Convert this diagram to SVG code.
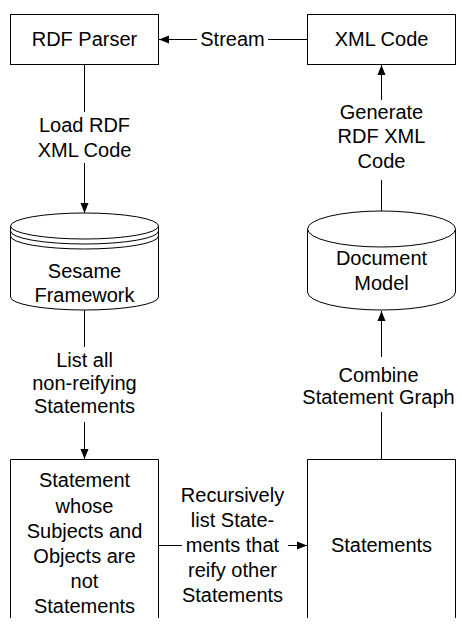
<svg xmlns="http://www.w3.org/2000/svg" width="462" height="628" viewBox="0 0 462 628">
<style>
.s{fill:#fff;stroke:#000;stroke-width:1}
.l{fill:none;stroke:#000;stroke-width:1}
text{font-family:"Liberation Sans",Arial,sans-serif;font-size:20px;fill:#000;text-anchor:middle}
</style>
<defs>
<marker id="a" markerUnits="userSpaceOnUse" markerWidth="11" markerHeight="9" refX="10" refY="4.5" orient="auto">
<path d="M0,0.5 L10,4.5 L0,8.5 Z" fill="#000"/>
</marker>
</defs>
<rect width="462" height="628" fill="#fff"/>
<g id="connectors">
<line class="l" x1="307" y1="39.5" x2="268" y2="39.5"/>
<line class="l" x1="197" y1="39.5" x2="159" y2="39.5" marker-end="url(#a)"/>
<text x="232.5" y="46">Stream</text>
<line class="l" x1="84.5" y1="64" x2="84.5" y2="112"/>
<line class="l" x1="84.5" y1="163" x2="84.5" y2="213" marker-end="url(#a)"/>
<text x="84.5" y="132">Load RDF</text>
<text x="84.5" y="157">XML Code</text>
<line class="l" x1="381.5" y1="100" x2="381.5" y2="65" marker-end="url(#a)"/>
<line class="l" x1="381.5" y1="180" x2="381.5" y2="211"/>
<text x="381.5" y="119">Generate</text>
<text x="381.5" y="143">RDF XML</text>
<text x="381.5" y="168">Code</text>
<line class="l" x1="84.5" y1="310" x2="84.5" y2="347"/>
<line class="l" x1="84.5" y1="422" x2="84.5" y2="459" marker-end="url(#a)"/>
<text x="84.5" y="367">List all</text>
<text x="84.5" y="390">non-reifying</text>
<text x="84.5" y="413">Statements</text>
<line class="l" x1="381.5" y1="357" x2="381.5" y2="311" marker-end="url(#a)"/>
<line class="l" x1="381.5" y1="412" x2="381.5" y2="459"/>
<text x="378.5" y="382">Combine</text>
<text x="378.5" y="404">Statement Graph</text>
<line class="l" x1="158" y1="545.5" x2="182" y2="545.5"/>
<line class="l" x1="288" y1="545.5" x2="307" y2="545.5" marker-end="url(#a)"/>
<text x="232.5" y="502">Recursively</text>
<text x="232.5" y="527">list State-</text>
<text x="232.5" y="552">ments that</text>
<text x="232.5" y="577">reify other</text>
<text x="232.5" y="602">Statements</text>
</g>
<g id="rdf-parser">
<rect class="s" x="10.5" y="14.5" width="148" height="50"/>
<text x="84.5" y="46">RDF Parser</text>
</g>
<g id="xml-code">
<rect class="s" x="307.5" y="14.5" width="148" height="50"/>
<text x="381.5" y="46">XML Code</text>
</g>
<g id="sesame">
<path class="s" d="M10.5,226 V297 A74,13 0 0 0 158.5,297 V226"/>
<ellipse class="s" cx="84.5" cy="226" rx="74" ry="13"/>
<path class="l" d="M10.5,231 A74,13 0 0 0 158.5,231 M10.5,236 A74,13 0 0 0 158.5,236"/>
<text x="84.5" y="278">Sesame</text>
<text x="84.5" y="302">Framework</text>
</g>
<g id="document-model">
<path class="s" d="M307.5,229 V292 A74,18 0 0 0 455.5,292 V229"/>
<ellipse class="s" cx="381.5" cy="229" rx="74" ry="18"/>
<text x="381.5" y="265">Document</text>
<text x="381.5" y="290">Model</text>
</g>
<g id="statement-left">
<path class="s" d="M10.5,618 V459.5 H158.5 V618"/>
<text x="84.5" y="487">Statement</text>
<text x="84.5" y="513">whose</text>
<text x="84.5" y="538">Subjects and</text>
<text x="84.5" y="563">Objects are</text>
<text x="84.5" y="588">not</text>
<text x="84.5" y="613">Statements</text>
</g>
<g id="statements-right">
<path class="s" d="M307.5,618 V459.5 H455.5 V618"/>
<text x="381.5" y="552">Statements</text>
</g>
</svg>
